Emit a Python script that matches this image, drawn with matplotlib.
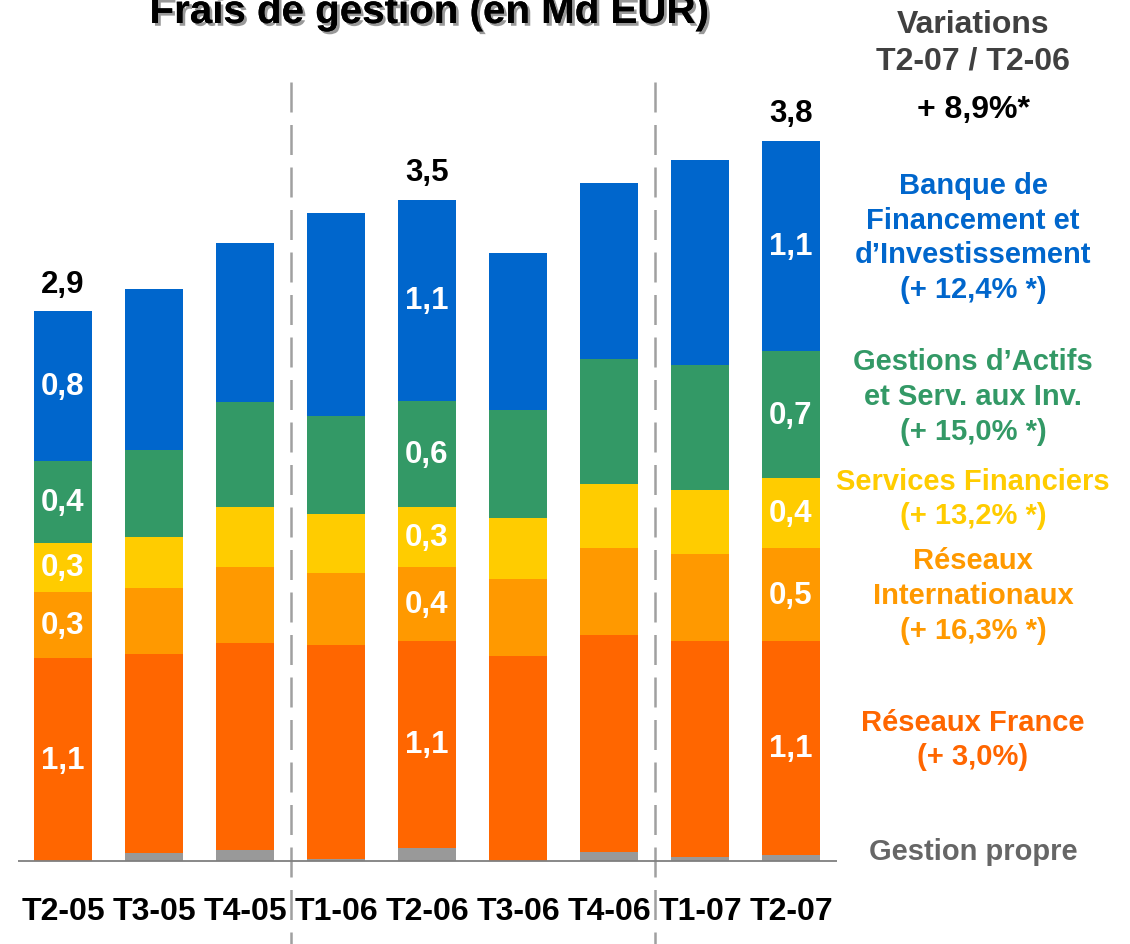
import numpy as np
import matplotlib
matplotlib.use("Agg")
import matplotlib.pyplot as plt
import matplotlib.patheffects as pe

plt.rcParams['font.family'] = ['Liberation Sans', 'DejaVu Sans']
plt.rcParams['font.weight'] = 'bold'

################################################################################
# data (Md EUR)
################################################################################
quarters = ['T2-05', 'T3-05', 'T4-05', 'T1-06', 'T2-06', 'T3-06', 'T4-06', 'T1-07', 'T2-07']

gestion_propre = [0.00, 0.04, 0.06, 0.01, 0.07, 0.00, 0.05, 0.02, 0.03]
reseaux_france = [1.07, 1.05, 1.09, 1.13, 1.09, 1.08, 1.14, 1.14, 1.13]
reseaux_intl   = [0.35, 0.35, 0.40, 0.38, 0.39, 0.41, 0.46, 0.46, 0.49]
services_fin   = [0.26, 0.27, 0.32, 0.31, 0.32, 0.32, 0.34, 0.34, 0.37]
gestions_actifs = [0.43, 0.46, 0.55, 0.52, 0.56, 0.57, 0.66, 0.66, 0.67]
bfi            = [0.79, 0.85, 0.84, 1.07, 1.06, 0.83, 0.93, 1.08, 1.11]

# labelled bars: index -> labels per segment (France, Intl, SF, GIS, BFI) and total
seg_labels = {
    0: ['1,1', '0,3', '0,3', '0,4', '0,8'],
    4: ['1,1', '0,4', '0,3', '0,6', '1,1'],
    8: ['1,1', '0,5', '0,4', '0,7', '1,1'],
}
totals = {0: '2,9', 4: '3,5', 8: '3,8'}

colors = {
    'gp': '#999999',
    'france': '#FF6600',
    'intl': '#FF9900',
    'sf': '#FFCC00',
    'gis': '#339966',
    'bfi': '#0066CC',
}

################################################################################
# figure setup: one axes over the whole canvas
################################################################################
W, H = 1130, 945
BASE = 862      # baseline in pixels
PPU = 189.5     # pixels per Md EUR
X0, DX = 63, 91  # first bar centre and spacing in px

fig = plt.figure(figsize=(W / 100, H / 100), dpi=100)
ax = fig.add_axes([0, 0, 1, 1])
ax.set_xlim(-X0 / DX, (W - X0) / DX)
ax.set_ylim((BASE - H) / PPU, BASE / PPU)
ax.axis('off')


def py(p):
    # pixel row -> data y
    return (BASE - p) / PPU


x = np.arange(len(quarters))
width = 0.64

series = [gestion_propre, reseaux_france, reseaux_intl, services_fin, gestions_actifs, bfi]
keys = ['gp', 'france', 'intl', 'sf', 'gis', 'bfi']
bottom = np.zeros(len(quarters))
bottoms = []
for vals, k in zip(series, keys):
    vals = np.array(vals)
    ax.bar(x, vals, width, bottom=bottom, color=colors[k], linewidth=0, zorder=2)
    bottoms.append(bottom.copy())
    bottom = bottom + vals
tops = bottom

# segment labels (white)
for i, labs in seg_labels.items():
    for j, lab in enumerate(labs):
        s = j + 1
        b = bottoms[s][i]
        h = np.array(series[s])[i]
        ax.text(i, b + h / 2, lab, color='white', fontsize=22.5, fontweight='bold',
                ha='center', va='center', zorder=3)

# totals above bars
for i, lab in totals.items():
    ax.annotate(lab, (i, tops[i]), xytext=(0, 20), textcoords='offset points',
                ha='center', va='center', fontsize=22.5, fontweight='bold', color='black')

# baseline
ax.hlines(0, -0.49, 8.5, color='#7f7f7f', linewidth=1.3, zorder=3)

# dashed separators
for xs in [2.5, 6.5]:
    ax.plot([xs, xs], [py(83), py(H + 5)], color='#a0a0a0', linewidth=1.8,
            linestyle=(0, (12, 5)), zorder=1)

# x labels
for i, q in enumerate(quarters):
    ax.text(i, py(912), q, ha='center', va='center', fontsize=23, fontweight='bold', color='black')

# title
fig.text(429 / W, 1 - 24 / H, 'Frais de gestion (en Md EUR)', ha='center', va='baseline',
         fontsize=29, fontweight='bold', color='black',
         path_effects=[pe.withSimplePatchShadow(offset=(2, -2), shadow_rgbFace='#808080', alpha=0.8),
                       pe.Normal()])

################################################################################
# right-hand annotations
################################################################################
xr = 973 / W


def rtext(ypx, s, c, size=21):
    fig.text(xr, 1 - ypx / H, s, ha='center', va='center', fontsize=size,
             fontweight='bold', color=c, linespacing=1.3)


rtext(25, 'Variations', '#404040', 23)
rtext(62, 'T2-07 / T2-06', '#404040', 23)
rtext(110, '+ 8,9%*', 'black', 23)
rtext(238, 'Banque de\nFinancement et\nd\u2019Investissement\n(+ 12,4% *)', colors['bfi'])
rtext(397, 'Gestions d\u2019Actifs\net Serv. aux Inv.\n(+ 15,0% *)', colors['gis'])
rtext(499, 'Services Financiers\n(+ 13,2% *)', colors['sf'])
rtext(596, 'R\u00e9seaux\nInternationaux\n(+ 16,3% *)', colors['intl'])
rtext(740, 'R\u00e9seaux France\n(+ 3,0%)', colors['france'])
rtext(852, 'Gestion propre', '#666666')

fig.savefig('out.png', dpi=100)
